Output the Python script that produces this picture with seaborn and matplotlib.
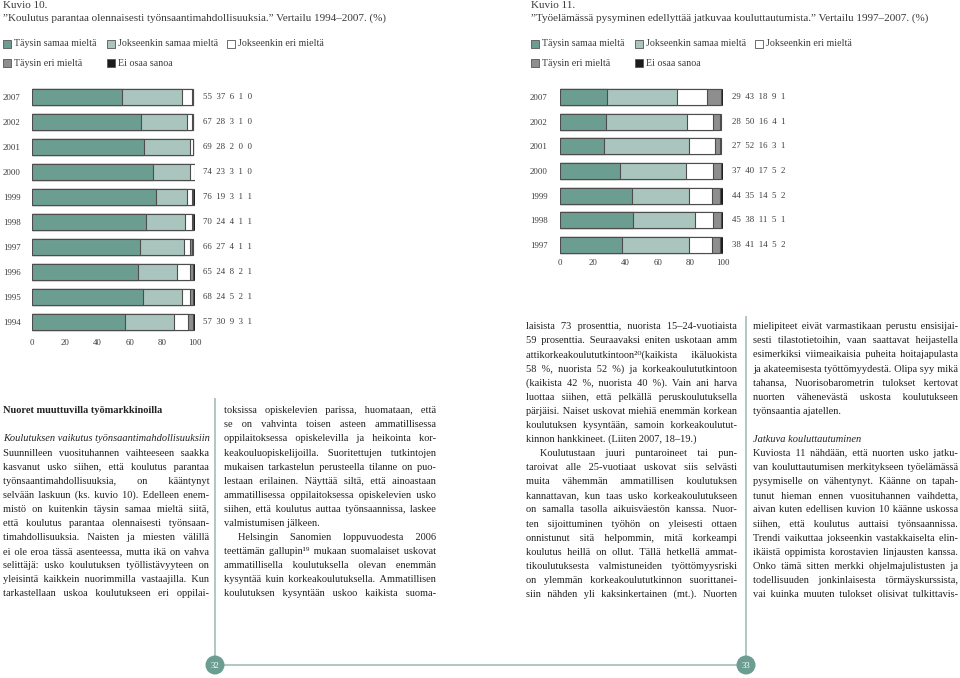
import itertools
import matplotlib
matplotlib.use("Agg")
import numpy as np
import pandas as pd
import matplotlib.pyplot as plt
import seaborn as sns
from matplotlib.patches import Rectangle, Circle
from matplotlib.font_manager import FontProperties, findfont
from matplotlib import ft2font
from matplotlib.transforms import blended_transform_factory

# ---------------- data ----------------
categories = ["Täysin samaa mieltä", "Jokseenkin samaa mieltä", "Jokseenkin eri mieltä",
              "Täysin eri mieltä", "Ei osaa sanoa"]
colors = ["#6c9d91", "#a9c5bd", "#ffffff", "#8e8e8e", "#1c1c1c"]

years10 = ["2007", "2002", "2001", "2000", "1999", "1998", "1997", "1996", "1995", "1994"]
t_samaa10 = [55, 67, 69, 74, 76, 70, 66, 65, 68, 57]
j_samaa10 = [37, 28, 28, 23, 19, 24, 27, 24, 24, 30]
j_eri10 = [6, 3, 2, 3, 3, 4, 4, 8, 5, 9]
t_eri10 = [1, 1, 0, 1, 1, 1, 1, 2, 2, 3]
eos10 = [0, 0, 0, 0, 1, 1, 1, 1, 1, 1]

years11 = ["2007", "2002", "2001", "2000", "1999", "1998", "1997"]
t_samaa11 = [29, 28, 27, 37, 44, 45, 38]
j_samaa11 = [43, 50, 52, 40, 35, 38, 41]
j_eri11 = [18, 16, 16, 17, 14, 11, 14]
t_eri11 = [9, 4, 3, 5, 5, 5, 5]
eos11 = [1, 1, 1, 2, 2, 1, 2]

ticks = [0, 20, 40, 60, 80, 100]

title10 = ["Kuvio 10.",
           "”Koulutus parantaa olennaisesti työnsaantimahdollisuuksia.” Vertailu 1994–2007. (%)"]
title11 = ["Kuvio 11.",
           "”Työelämässä pysyminen edellyttää jatkuvaa kouluttautumista.” Vertailu 1997–2007. (%)"]

# body text columns: (kind, text); kinds: h bold, i italic, j justified, p indented+justified,
# f last line of paragraph, b blank
col1 = [("h", "Nuoret muuttuvilla työmarkkinoilla"), ("b", ""),
        ("i", "Koulutuksen vaikutus työnsaantimahdollisuuksiin"),
        ("j", "Suunnilleen vuosituhannen vaihteeseen saakka"),
        ("j", "kasvanut usko siihen, että koulutus parantaa"),
        ("j", "työnsaantimahdollisuuksia, on kääntynyt"),
        ("j", "selvään laskuun (ks. kuvio 10). Edelleen enem-"),
        ("j", "mistö on kuitenkin täysin samaa mieltä siitä,"),
        ("j", "että koulutus parantaa olennaisesti työnsaan-"),
        ("j", "timahdollisuuksia. Naisten ja miesten välillä"),
        ("j", "ei ole eroa tässä asenteessa, mutta ikä on vahva"),
        ("j", "selittäjä: usko koulutuksen työllistävyyteen on"),
        ("j", "yleisintä kaikkein nuorimmilla vastaajilla. Kun"),
        ("j", "tarkastellaan uskoa koulutukseen eri oppilai-")]
col2 = [("j", "toksissa opiskelevien parissa, huomataan, että"),
        ("j", "se on vahvinta toisen asteen ammatillisessa"),
        ("j", "oppilaitoksessa opiskelevilla ja heikointa kor-"),
        ("j", "keakouluopiskelijoilla. Suoritettujen tutkintojen"),
        ("j", "mukaisen tarkastelun perusteella tilanne on puo-"),
        ("j", "lestaan erilainen. Näyttää siltä, että ainoastaan"),
        ("j", "ammatillisessa oppilaitoksessa opiskelevien usko"),
        ("j", "siihen, että koulutus auttaa työnsaannissa, laskee"),
        ("f", "valmistumisen jälkeen."),
        ("p", "Helsingin Sanomien loppuvuodesta 2006"),
        ("j", "teettämän gallupin¹⁹ mukaan suomalaiset uskovat"),
        ("j", "ammatillisella koulutuksella olevan enemmän"),
        ("j", "kysyntää kuin korkeakoulutuksella. Ammatillisen"),
        ("j", "koulutuksen kysyntään uskoo kaikista suoma-")]
col3 = [("j", "laisista 73 prosenttia, nuorista 15–24-vuotiaista"),
        ("j", "59 prosenttia. Seuraavaksi eniten uskotaan amm"),
        ("j", "attikorkeakoulututkintoon²⁰(kaikista ikäluokista"),
        ("j", "58 %, nuorista 52 %) ja korkeakoulututkintoon"),
        ("j", "(kaikista 42 %, nuorista 40 %). Vain ani harva"),
        ("j", "luottaa siihen, että pelkällä peruskoulutuksella"),
        ("j", "pärjäisi. Naiset uskovat miehiä enemmän korkean"),
        ("j", "koulutuksen kysyntään, samoin korkeakoulutut-"),
        ("f", "kinnon hankkineet. (Liiten 2007, 18–19.)"),
        ("p", "Koulutustaan juuri puntaroineet tai pun-"),
        ("j", "taroivat alle 25-vuotiaat uskovat siis selvästi"),
        ("j", "muita vähemmän ammatillisen koulutuksen"),
        ("j", "kannattavan, kun taas usko korkeakoulutukseen"),
        ("j", "on samalla tasolla aikuisväestön kanssa. Nuor-"),
        ("j", "ten sijoittuminen työhön on yleisesti ottaen"),
        ("j", "onnistunut sitä helpommin, mitä korkeampi"),
        ("j", "koulutus heillä on ollut. Tällä hetkellä ammat-"),
        ("j", "tikoulutuksesta valmistuneiden työttömyysriski"),
        ("j", "on ylemmän korkeakoulututkinnon suorittanei-"),
        ("j", "siin nähden yli kaksinkertainen (mt.). Nuorten")]
col4 = [("j", "mielipiteet eivät varmastikaan perustu ensisijai-"),
        ("j", "sesti tilastotietoihin, vaan saattavat heijastella"),
        ("j", "esimerkiksi viimeaikaisia puheita hoitajapulasta"),
        ("j", "ja akateemisesta työttömyydestä. Olipa syy mikä"),
        ("j", "tahansa, Nuorisobarometrin tulokset kertovat"),
        ("j", "nuorten vähenevästä uskosta koulutukseen"),
        ("f", "työnsaantia ajatellen."),
        ("b", ""),
        ("i", "Jatkuva kouluttautuminen"),
        ("j", "Kuviosta 11 nähdään, että nuorten usko jatku-"),
        ("j", "van kouluttautumisen merkitykseen työelämässä"),
        ("j", "pysymiselle on vähentynyt. Käänne on tapah-"),
        ("j", "tunut hieman ennen vuosituhannen vaihdetta,"),
        ("j", "aivan kuten edellisen kuvion 10 käänne uskossa"),
        ("j", "siihen, että koulutus auttaisi työnsaannissa."),
        ("j", "Trendi vaikuttaa jokseenkin vastakkaiselta elin-"),
        ("j", "ikäistä oppimista korostavien linjausten kanssa."),
        ("j", "Onko tämä sitten merkki ohjelmajulistusten ja"),
        ("j", "todellisuuden jonkinlaisesta törmäyskurssista,"),
        ("j", "vai kuinka muuten tulokset olisivat tulkittavis-")]

# ---------------- style ----------------
sns.set_theme(style="white")
FAM = ["Liberation Serif", "DejaVu Serif"]
plt.rcParams["font.family"] = FAM
TXT = "#3a3a3a"
BODY = "#222222"
EDGE = "#4d4d4d"
TEAL = "#6c9d91"
LINE = "#adc3bd"

W, H = 960, 678
fig = plt.figure(figsize=(W / 100, H / 100), dpi=100)
fig.patch.set_facecolor("white")


def rect(l, t, r, b):
    return [l / W, 1 - b / H, (r - l) / W, (b - t) / H]


def stacked(ax, years, series, values_x, xpad, ypad):
    df = pd.DataFrame({c: s for c, s in zip(categories, series)})
    df.insert(0, "Vuosi", years)
    cum = df[categories].cumsum(axis=1)
    for c, col in reversed(list(zip(categories, colors))):
        sns.barplot(x=cum[c], y=df["Vuosi"], order=years, orient="y", color=col,
                    saturation=1, width=0.65, edgecolor=EDGE, linewidth=0.8, ax=ax)
    n = len(years)
    ax.set_xlim(0, 100)
    ax.set_ylim(n - 0.5, -0.5)
    ax.set_xticks(ticks)
    ax.set_xticklabels([str(t) for t in ticks])
    ax.set_xlabel("")
    ax.set_ylabel("")
    for s in ax.spines.values():
        s.set_visible(False)
    ax.tick_params(axis="x", length=0, pad=xpad, labelsize=6.3, labelcolor=TXT)
    ax.tick_params(axis="y", length=0, pad=ypad, labelsize=6.3, labelcolor=TXT)
    plt.setp(ax.get_yticklabels(), ha="left")
    tr = blended_transform_factory(ax.transAxes, ax.transData)
    for i in range(n):
        vals = [s[i] for s in series]
        ax.text(values_x, i, "  ".join(str(v) for v in vals), transform=tr,
                va="center", ha="left", fontsize=6.3, color=TXT)
    ax.patch.set_visible(False)


ax1 = fig.add_axes(rect(32, 84.5, 195, 334.5))
stacked(ax1, years10, [t_samaa10, j_samaa10, j_eri10, t_eri10, eos10],
        (203 - 32) / 163, 3.0, 20.9)

ax2 = fig.add_axes(rect(560, 84.6, 723, 257.4))
stacked(ax2, years11, [t_samaa11, j_samaa11, j_eri11, t_eri11, eos11],
        (732 - 560) / 163, 1.3, 21.6)

# ---------------- overlay in pixel coordinates ----------------
ov = fig.add_axes([0, 0, 1, 1])
ov.set_xlim(0, W)
ov.set_ylim(H, 0)
ov.axis("off")

TSIZE = 8.0
LSIZE = 7.2
for (x0, lines) in [(3, title10), (531, title11)]:
    ov.text(x0, 5, lines[0], fontsize=TSIZE, color=TXT, va="center", ha="left")
    ov.text(x0, 18.5, lines[1], fontsize=TSIZE, color=TXT, va="center", ha="left")

leg_pos = [(0, 44), (104, 44), (224, 44), (0, 63), (104, 63)]
for x0 in (3, 531):
    for (dx, y), c, col in zip(leg_pos, categories, colors):
        ov.add_patch(Rectangle((x0 + dx, y - 4), 8, 8, facecolor=col,
                               edgecolor="#555555", linewidth=0.6))
        ov.text(x0 + dx + 11, y, c, fontsize=LSIZE, color=TXT, va="center", ha="left")

# page frame lines and page numbers
ov.plot([215, 215], [398, 665], color=LINE, lw=1.3, solid_capstyle="butt")
ov.plot([746, 746], [316, 665], color=LINE, lw=1.3, solid_capstyle="butt")
ov.plot([215, 746], [665, 665], color=LINE, lw=1.3, solid_capstyle="butt")
for cx, num in [(215, "32"), (746, "33")]:
    ov.add_patch(Circle((cx, 665), 9.5, facecolor=TEAL, edgecolor="none", zorder=3))
    ov.text(cx, 665.5, num, color="white", fontsize=6.3, ha="center", va="center", zorder=4)

# ---------------- justified body text (one Text per line) ----------------
renderer = fig.canvas.get_renderer()


def fprop(size, kind):
    if kind == "h":
        return FontProperties(family=FAM, size=size, weight="bold")
    if kind == "i":
        return FontProperties(family=FAM, size=size, style="italic")
    return FontProperties(family=FAM, size=size)


def tw(s, prop):
    return renderer.get_text_width_height_descent(s, prop, ismath=False)[0]


def has_glyph(ch):
    for fam in FAM:
        try:
            f = ft2font.FT2Font(findfont(FontProperties(family=fam), fallback_to_default=False))
            if f.get_char_index(ord(ch)) != 0:
                return True
        except Exception:
            pass
    return False


cand_spaces = [" ", "\u2002", "\u2004", "\u2005", "\u2006", "\u2009", "\u200a"]
spaces = [ch for ch in cand_spaces if ch == " " or has_glyph(ch)]

INDENT = 14
columns = [(3, 209, 410, col1), (224, 436, 410, col2),
           (526, 737, 326, col3), (753, 958, 326, col4)]

BASE = 8.2
ratio = 1.0
for x0, x1, y0, lines in columns:
    for kind, s in lines:
        if kind in ("j", "p"):
            avail = (x1 - x0) - (INDENT if kind == "p" else 0)
            nat = tw(s, fprop(BASE, "j"))
            ratio = min(ratio, avail / nat)
BS = BASE * min(1.0, ratio * 0.99)

bprop = fprop(BS, "j")
xx = tw("xx", bprop)
sw = {ch: tw("x" + ch + "x", bprop) - xx for ch in spaces}
sw = {ch: w for ch, w in sw.items() if w > 0.05}
combos = {}
for k in range(1, 5):
    for comb in itertools.combinations_with_replacement(list(sw), k):
        wsum = sum(sw[c] for c in comb)
        key = round(wsum, 2)
        if key not in combos:
            combos[key] = "".join(comb)
combo_list = sorted(combos.items())


def justify(words, avail, prop):
    ww = [tw(w, prop) for w in words]
    if len(words) == 1:
        return words[0]
    g = (avail - sum(ww)) / (len(words) - 1)
    S = words[0]
    for i in range(1, len(words)):
        target = sum(ww[:i]) + i * g
        need = target - tw(S, prop)
        wsp, gap = min(combo_list, key=lambda c: abs(c[0] - need))
        S = S + gap + words[i]
    return S


LH = 14.1
for x0, x1, y0, lines in columns:
    for k, (kind, s) in enumerate(lines):
        yb = y0 + k * LH + 3.2
        if kind == "b":
            continue
        prop = fprop(BS, kind)
        if kind in ("j", "p"):
            xs = x0 + (INDENT if kind == "p" else 0)
            line = justify(s.split(" "), x1 - xs, prop)
            ov.text(xs, yb, line, fontproperties=prop, color=BODY, va="baseline", ha="left")
        else:
            ov.text(x0, yb, s, fontproperties=prop, color=BODY, va="baseline", ha="left")

fig.savefig("out.png", dpi=100, facecolor="white")
